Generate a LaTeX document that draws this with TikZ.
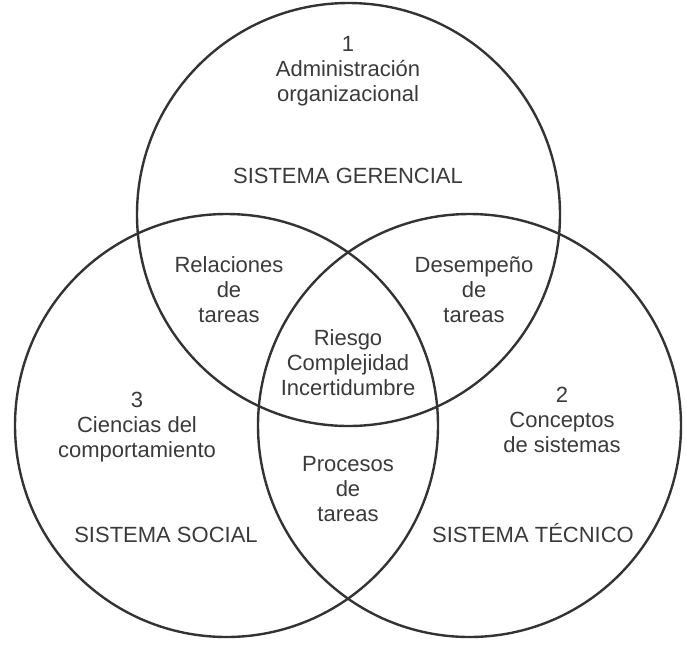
\documentclass[tikz,border=0pt]{standalone}
\usepackage{fontspec}
\setmainfont{Liberation Sans}
\definecolor{inkline}{HTML}{333333}
\definecolor{inktext}{HTML}{3A3A3A}
\begin{document}
\begin{tikzpicture}[x=1pt,y=-1pt,
        ring/.style={draw=inkline,line width=2.4pt},
        txt/.style={text=inktext,align=center,anchor=base,inner sep=0pt,
                font=\fontsize{22}{25}\selectfont}]
        \useasboundingbox (0,0) rectangle (686,649);
        % centres of the three systems
        \coordinate (gercen) at (348.5,214.5);
        \coordinate (soccen) at (226.5,425.5);
        \coordinate (teccen) at (469.5,425.5);
        \draw[ring] (gercen) circle (211.5pt);
        \draw[ring] (soccen) circle (211.5pt);
        \draw[ring] (teccen) circle (211.5pt);
        % base anchor sits on the last line
        \node[txt] (admin) at (348,101) {1\\Administración\\organizacional};
        \node[txt] (gerencial) at (348,183) {SISTEMA GERENCIAL};
        \node[txt] (relaciones) at (229,322) {Relaciones\\de\\tareas};
        \node[txt] (desempeno) at (474,322) {Desempeño\\de\\tareas};
        \node[txt] (riesgo) at (348,395) {Riesgo\\Complejidad\\Incertidumbre};
        \node[txt] (ciencias) at (137,457) {3\\Ciencias del\\comportamiento};
        \node[txt] (conceptos) at (562,452) {2\\Conceptos\\de sistemas};
        \node[txt] (procesos) at (348,521) {Procesos\\de\\tareas};
        \node[txt] (social) at (166,542) {SISTEMA SOCIAL};
        \node[txt] (tecnico) at (533,542) {SISTEMA TÉCNICO};
\end{tikzpicture}
\end{document}
